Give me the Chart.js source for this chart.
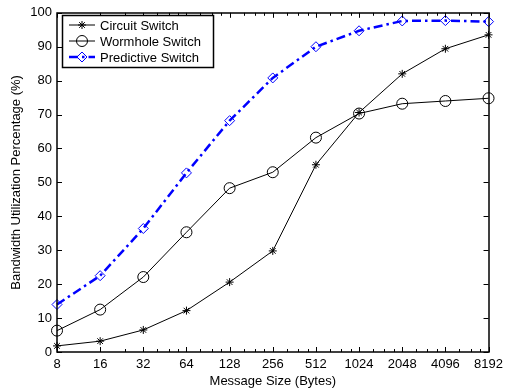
<!DOCTYPE html>
<html>
<head>
<meta charset="utf-8">
<script src="https://cdn.jsdelivr.net/npm/chart.js@4"></script>
<style>
  html, body { margin: 0; padding: 0; background: #fff; }
  #wrap { width: 508px; height: 391px; }
</style>
</head>
<body>
<div id="wrap"><canvas id="c"></canvas></div>
<script>
// --- Data ---
const sizes = [8, 16, 32, 64, 128, 256, 512, 1024, 2048, 4096, 8192];
const circuit = [1.8, 3.2, 6.5, 12.2, 20.6, 29.8, 55.2, 70.6, 82.0, 89.4, 93.5];
const wormhole = [6.3, 12.5, 22.1, 35.3, 48.3, 53.0, 63.2, 70.3, 73.2, 74.0, 74.8];
const predictive = [14.0, 22.5, 36.4, 52.8, 68.2, 80.8, 90.0, 94.7, 97.6, 97.7, 97.4];
const minorTicks = [24, 40, 48, 56, 80, 96, 112, 160, 192, 224, 320, 384, 448,
  640, 768, 896, 1280, 1536, 1792, 2560, 3072, 3584, 5120, 6144, 7168];
const yTicks = [0, 10, 20, 30, 40, 50, 60, 70, 80, 90, 100];

const FONT = "'Liberation Sans', Arial, Helvetica, sans-serif";

const toXY = vals => vals.map((v, i) => ({ x: sizes[i], y: v }));

// --- Frame, inward ticks and legend (matlab look) ---
const framePlugin = {
  id: "frame",
  afterDraw(chart) {
    const { ctx, chartArea: a, scales: { x, y } } = chart;
    ctx.save();
    ctx.strokeStyle = "#000";
    ctx.lineWidth = 1.5;
    ctx.strokeRect(Math.round(a.left), Math.round(a.top),
      Math.round(a.right - a.left), Math.round(a.bottom - a.top));

    ctx.lineWidth = 1;
    ctx.beginPath();
    sizes.forEach(v => {
      const px = Math.round(x.getPixelForValue(v)) + 0.5;
      ctx.moveTo(px, a.bottom); ctx.lineTo(px, a.bottom - 5);
      ctx.moveTo(px, a.top); ctx.lineTo(px, a.top + 5);
    });
    minorTicks.forEach(v => {
      const px = Math.round(x.getPixelForValue(v)) + 0.5;
      ctx.moveTo(px, a.bottom); ctx.lineTo(px, a.bottom - 3);
      ctx.moveTo(px, a.top); ctx.lineTo(px, a.top + 3);
    });
    yTicks.forEach(v => {
      const py = Math.round(y.getPixelForValue(v)) + 0.5;
      ctx.moveTo(a.left, py); ctx.lineTo(a.left + 5, py);
      ctx.moveTo(a.right, py); ctx.lineTo(a.right - 5, py);
    });
    ctx.stroke();

    // legend box
    const bx = 62.5, by = 15.5, bw = 151, bh = 52;
    ctx.fillStyle = "#fff";
    ctx.fillRect(bx, by, bw, bh);
    ctx.lineWidth = 1.5;
    ctx.strokeRect(bx, by, bw, bh);
    ctx.font = "13px " + FONT;
    ctx.textBaseline = "middle";
    chart.data.datasets.forEach((ds, i) => {
      const ly = 25 + i * 16;
      ctx.save();
      ctx.strokeStyle = ds.borderColor;
      ctx.lineWidth = ds.borderWidth;
      ctx.setLineDash(ds.borderDash || []);
      ctx.beginPath();
      ctx.moveTo(69, ly); ctx.lineTo(95, ly);
      ctx.stroke();
      ctx.setLineDash([]);
      ctx.lineWidth = ds.pointBorderWidth;
      ctx.strokeStyle = ds.pointBorderColor;
      ctx.fillStyle = ds.pointBackgroundColor;
      Chart.helpers.drawPoint(ctx, {
        pointStyle: ds.pointStyle, radius: ds.pointRadius, rotation: 0,
        borderWidth: ds.pointBorderWidth
      }, 82, ly);
      ctx.restore();
      ctx.fillStyle = "#000";
      ctx.fillText(ds.label, 100, ly + 1);
    });
    ctx.restore();
  }
};

new Chart(document.getElementById("c"), {
  type: "line",
  data: {
    datasets: [
      {
        label: "Circuit Switch", data: toXY(circuit),
        borderColor: "#000", borderWidth: 1,
        pointStyle: "star", pointRadius: 4, pointBorderWidth: 1,
        pointBorderColor: "#000", pointBackgroundColor: "#000"
      },
      {
        label: "Wormhole Switch", data: toXY(wormhole),
        borderColor: "#000", borderWidth: 1,
        pointStyle: "circle", pointRadius: 5.5, pointBorderWidth: 1,
        pointBorderColor: "#000", pointBackgroundColor: "rgba(0,0,0,0)"
      },
      {
        label: "Predictive Switch", data: toXY(predictive),
        borderColor: "#0000ff", borderWidth: 2.5, borderDash: [9, 4, 2.5, 4],
        pointStyle: "rectRot", pointRadius: 5, pointBorderWidth: 1,
        pointBorderColor: "#0000ff", pointBackgroundColor: "rgba(0,0,0,0)"
      }
    ]
  },
  options: {
    responsive: true,
    maintainAspectRatio: false,
    animation: false,
    devicePixelRatio: 1,
    clip: false,
    layout: { padding: { left: 0, top: 10, right: 16, bottom: 0 } },
    elements: { line: { tension: 0 } },
    plugins: { legend: { display: false }, tooltip: { enabled: false } },
    scales: {
      x: {
        type: "logarithmic",
        min: 8, max: 8192,
        afterBuildTicks: s => { s.ticks = sizes.map(v => ({ value: v })); },
        afterFit: s => { s.height = 39; },
        grid: { display: false, drawTicks: false },
        border: { display: false },
        ticks: {
          autoSkip: false, maxRotation: 0, padding: 5, color: "#000",
          font: { family: FONT, size: 13 },
          callback: v => String(v)
        },
        title: {
          display: true, text: "Message Size (Bytes)", color: "#000",
          font: { family: FONT, size: 13 }, padding: { top: 0, bottom: 2 }
        }
      },
      y: {
        min: 0, max: 100,
        afterBuildTicks: s => { s.ticks = yTicks.map(v => ({ value: v })); },
        afterFit: s => { s.width = 57; },
        grid: { display: false, drawTicks: false },
        border: { display: false },
        ticks: {
          padding: 5, color: "#000",
          font: { family: FONT, size: 13 }
        },
        title: {
          display: true, text: "Bandwidth Utilization Percentage (%)", color: "#000",
          font: { family: FONT, size: 13 }, padding: { top: 9, bottom: 0 }
        }
      }
    }
  },
  plugins: [framePlugin]
});
</script>
</body>
</html>
